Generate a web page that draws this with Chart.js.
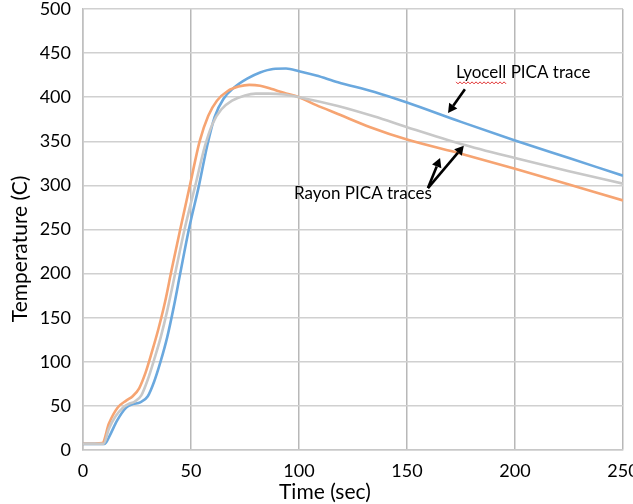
<!DOCTYPE html>
<html>
<head>
<meta charset="utf-8">
<script src="https://cdn.jsdelivr.net/npm/chart.js@4"></script>
<style>
  html, body { margin: 0; padding: 0; background: #fff; }
  #wrap { width: 633px; height: 504px; position: relative; }
</style>
</head>
<body>
<div id="wrap"><canvas id="c"></canvas></div>
<script>
// Lyocell PICA trace (blue): time (sec) and temperature (C)
const lyocellTime = [0, 10, 12.5, 15.7, 20, 23, 26.5, 30, 33, 36, 39, 42, 45, 49, 53.7, 57.5, 61, 65, 70, 76, 82, 88, 94, 100, 108, 118, 135, 150, 175, 200, 225, 250];
const lyocellTemp = [7, 7, 17, 33, 48, 52, 54, 61, 78, 101, 128, 162, 200, 250, 300, 345, 378, 398, 411, 421, 428, 432, 432.5, 429.5, 424.5, 417, 406, 394, 372, 351, 331, 311];
// Rayon PICA trace 1 (orange)
const rayonATime = [0, 9, 12, 16, 20, 23, 26, 29, 32, 35, 38, 41, 45, 49.5, 54, 58, 62, 67, 72, 77, 82, 87, 93, 100, 108, 118, 133, 150, 175, 200, 225, 250];
const rayonATemp = [7, 8, 30, 48, 56, 61, 70, 88, 112, 138, 168, 204, 250, 300, 350, 379, 396, 407, 412, 414, 413, 409.5, 405, 400, 391, 381, 366, 352, 336, 319, 301, 283];
// Rayon PICA trace 2 (gray)
const rayonBTime = [0, 9.5, 12, 15, 18.5, 21, 24, 27, 30, 33, 36, 39, 43, 47, 52, 56.5, 60, 64, 69, 75, 80, 86, 93, 100, 118, 135, 150, 175, 200, 225, 250];
const rayonBTemp = [7, 7, 24, 38, 48, 52, 55, 62, 80, 103, 128, 158, 204, 250, 300, 345, 370, 386, 396, 402, 404, 404, 403, 400, 390, 378, 366, 347, 331, 316, 302];
// Axis ticks
const xTicks = [0, 50, 100, 150, 200, 250];
const yTicks = [0, 50, 100, 150, 200, 250, 300, 350, 400, 450, 500];

const pts = (ts, vs) => ts.map((t, i) => ({ x: t, y: vs[i] }));

const FONT = "Lato, 'Open Sans', sans-serif";

const annot = {
  id: 'annot',
  afterDatasetsDraw(chart) {
    const { ctx, scales: { x, y } } = chart;
    const P = (t, v) => [x.getPixelForValue(t), y.getPixelForValue(v)];
    ctx.save();
    ctx.fillStyle = '#000';
    ctx.font = "17px " + FONT;
    ctx.textBaseline = 'middle';
    ctx.textAlign = 'left';
    const [lx, ly] = P(172.7, 427.6);
    ctx.fillText('Lyocell PICA trace', lx, ly);
    const lw = ctx.measureText('Lyocell').width;
    // red squiggle (spell-check underline)
    ctx.strokeStyle = '#e03030';
    ctx.lineWidth = 1;
    ctx.beginPath();
    let up = true;
    for (let xx = lx; xx <= lx + lw; xx += 2) {
      const yy = ly + 10 + (up ? -1 : 1);
      if (xx === lx) ctx.moveTo(xx, yy); else ctx.lineTo(xx, yy);
      up = !up;
    }
    ctx.stroke();
    const [rx, ry] = P(97.7, 290.7);
    ctx.fillStyle = '#000';
    ctx.fillText('Rayon PICA traces', rx, ry);

    function arrow(t0, v0, t1, v1) {
      const [x0, y0] = P(t0, v0);
      const [x1, y1] = P(t1, v1);
      const ang = Math.atan2(y1 - y0, x1 - x0);
      const hl = 9, hw = 5;
      const bx = x1 - hl * Math.cos(ang), by = y1 - hl * Math.sin(ang);
      ctx.strokeStyle = '#000';
      ctx.lineWidth = 2.6;
      ctx.beginPath();
      ctx.moveTo(x0, y0);
      ctx.lineTo(bx, by);
      ctx.stroke();
      ctx.beginPath();
      ctx.moveTo(x1, y1);
      ctx.lineTo(bx + hw * Math.sin(ang), by - hw * Math.cos(ang));
      ctx.lineTo(bx - hw * Math.sin(ang), by + hw * Math.cos(ang));
      ctx.closePath();
      ctx.fillStyle = '#000';
      ctx.fill();
    }
    arrow(176.8, 409, 169, 382);
    arrow(159.7, 297, 165.3, 331);
    arrow(159.7, 297, 176.3, 345);

    // axis titles
    ctx.fillStyle = '#000';
    ctx.font = "21px " + FONT;
    ctx.textAlign = 'center';
    ctx.textBaseline = 'middle';
    ctx.fillText('Time (sec)', x.getPixelForValue(112), 492);
    ctx.save();
    ctx.translate(20, y.getPixelForValue(228));
    ctx.rotate(-Math.PI / 2);
    ctx.fillText('Temperature (C)', 0, 0);
    ctx.restore();
    ctx.restore();
  }
};

new Chart(document.getElementById('c'), {
  type: 'line',
  data: {
    datasets: [
      { label: 'Rayon PICA trace (gray)', data: pts(rayonBTime, rayonBTemp), borderColor: '#c8c8c8', borderWidth: 2.6 },
      { label: 'Rayon PICA trace (orange)', data: pts(rayonATime, rayonATemp), borderColor: '#f6a472', borderWidth: 2.6 },
      { label: 'Lyocell PICA trace', data: pts(lyocellTime, lyocellTemp), borderColor: '#6aa8de', borderWidth: 2.6 }
    ]
  },
  options: {
    responsive: true,
    maintainAspectRatio: false,
    animation: false,
    devicePixelRatio: 1,
    layout: { padding: { top: 9, right: 10, left: 0, bottom: 0 } },
    elements: {
      point: { radius: 0 },
      line: { tension: 0.4, cubicInterpolationMode: 'monotone', fill: false }
    },
    plugins: { legend: { display: false }, tooltip: { enabled: false } },
    scales: {
      x: {
        type: 'linear',
        min: 0, max: 250,
        afterBuildTicks: s => { s.ticks = xTicks.map(v => ({ value: v })); },
        afterFit: s => { s.height = 54; s.paddingLeft = 0; s.paddingRight = 0; },
        grid: { color: '#b8b8b8', lineWidth: 1.5, drawTicks: false },
        border: { color: '#c8c8c8', width: 1.5 },
        ticks: { color: '#000', font: { family: FONT, size: 18 }, padding: 10, maxRotation: 0 },
        title: { display: false, text: 'Time (sec)' }
      },
      y: {
        min: 0, max: 500,
        afterBuildTicks: s => { s.ticks = yTicks.map(v => ({ value: v })); },
        afterFit: s => { s.width = 83; s.paddingTop = 0; s.paddingBottom = 0; },
        grid: { color: '#d0d0d0', lineWidth: 1.5, drawTicks: false },
        border: { color: '#c0c0c0', width: 1.5 },
        ticks: { color: '#000', font: { family: FONT, size: 18 }, padding: 12 },
        title: { display: false, text: 'Temperature (C)' }
      }
    }
  },
  plugins: [annot]
});
</script>
</body>
</html>
